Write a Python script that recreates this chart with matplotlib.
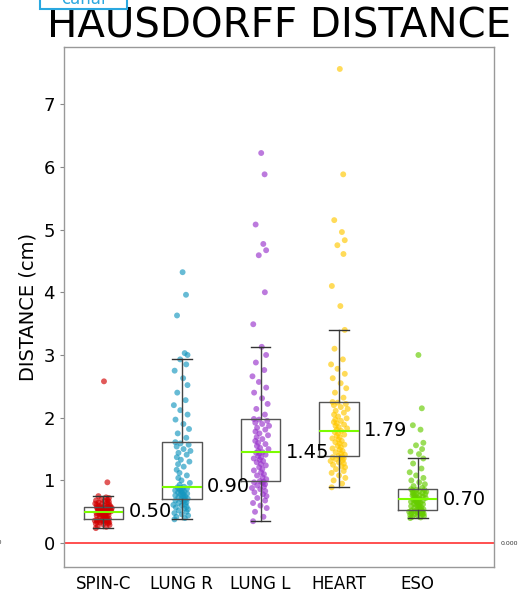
import numpy as np
import matplotlib
matplotlib.use("Agg")
import matplotlib.pyplot as plt
from matplotlib.patches import Rectangle

categories = ["SPIN-C", "LUNG R", "LUNG L", "HEART", "ESO"]
colors = ["#d10000", "#1597bf", "#9933cc", "#ffc800", "#66cc00"]

spin_c = [0.24, 0.26, 0.27, 0.29, 0.30, 0.31, 0.32, 0.33, 0.33, 0.34, 0.34, 0.35, 0.35, 0.36, 0.36, 0.36,
          0.37, 0.37, 0.37, 0.38, 0.38,
          0.39, 0.40, 0.41, 0.42, 0.43, 0.44, 0.44, 0.45, 0.45, 0.46, 0.46, 0.47, 0.47, 0.48, 0.48, 0.49,
          0.49, 0.49, 0.50, 0.50,
          0.51, 0.51, 0.52, 0.52, 0.52, 0.53, 0.53, 0.53, 0.54, 0.54, 0.54, 0.55, 0.55, 0.55, 0.56, 0.56,
          0.56, 0.57, 0.57, 0.57,
          0.58, 0.59, 0.59, 0.60, 0.61, 0.62, 0.62, 0.63, 0.64, 0.65, 0.66, 0.67, 0.68, 0.69, 0.70, 0.72,
          0.73, 0.75, 0.97, 2.58]

lung_r = [0.38, 0.40, 0.42, 0.44, 0.46, 0.48, 0.50, 0.52, 0.54, 0.55, 0.57, 0.58, 0.60, 0.61, 0.62, 0.64,
          0.65, 0.66, 0.68, 0.69, 0.70,
          0.71, 0.72, 0.73, 0.74, 0.75, 0.76, 0.77, 0.78, 0.79, 0.80, 0.81, 0.82, 0.83, 0.84, 0.85, 0.86,
          0.87, 0.88, 0.89, 0.90,
          0.93, 0.96, 1.00, 1.04, 1.08, 1.12, 1.17, 1.22, 1.26, 1.30, 1.33, 1.37, 1.41, 1.44, 1.47, 1.50,
          1.54, 1.57, 1.59, 1.61,
          1.68, 1.75, 1.82, 1.90, 1.97, 2.05, 2.12, 2.20, 2.28, 2.40, 2.52, 2.63, 2.75, 2.85, 2.93,
          3.00, 3.03, 3.63, 3.96, 4.32]

lung_l = [0.35, 0.42, 0.50, 0.56, 0.60, 0.64, 0.68, 0.72, 0.75, 0.78, 0.81, 0.83, 0.86, 0.88, 0.90, 0.92,
          0.94, 0.96, 0.97, 0.98, 0.99,
          1.02, 1.05, 1.08, 1.10, 1.13, 1.16, 1.18, 1.21, 1.24, 1.26, 1.29, 1.31, 1.33, 1.35, 1.37, 1.39,
          1.41, 1.43, 1.44, 1.45,
          1.47, 1.50, 1.52, 1.55, 1.58, 1.60, 1.63, 1.66, 1.69, 1.72, 1.75, 1.78, 1.81, 1.84, 1.87, 1.90,
          1.92, 1.95, 1.97, 1.98,
          2.05, 2.14, 2.22, 2.31, 2.40, 2.48, 2.57, 2.66, 2.76, 2.88, 3.00, 3.13,
          3.49, 4.00, 4.59, 4.67, 4.77, 5.08, 5.88, 6.22]

heart = [0.89, 0.95, 1.00, 1.04, 1.08, 1.12, 1.15, 1.18, 1.21, 1.23, 1.25, 1.27, 1.29, 1.31, 1.32, 1.34,
         1.35, 1.36, 1.37, 1.38, 1.39,
         1.41, 1.43, 1.45, 1.47, 1.49, 1.51, 1.53, 1.55, 1.57, 1.59, 1.61, 1.63, 1.65, 1.67, 1.69, 1.71,
         1.73, 1.75, 1.77, 1.79,
         1.81, 1.83, 1.85, 1.87, 1.89, 1.91, 1.93, 1.95, 1.97, 1.99, 2.02, 2.05, 2.08, 2.11, 2.14, 2.17,
         2.20, 2.22, 2.24, 2.25,
         2.32, 2.40, 2.47, 2.55, 2.63, 2.70, 2.78, 2.85, 2.93, 3.10, 3.40,
         3.78, 4.10, 4.61, 4.75, 4.83, 4.96, 5.15, 5.88, 7.56]

eso = [0.40, 0.41, 0.42, 0.43, 0.44, 0.45, 0.46, 0.46, 0.47, 0.48, 0.48, 0.49, 0.49, 0.50, 0.50, 0.51,
       0.51, 0.52, 0.52, 0.53, 0.53,
       0.54, 0.55, 0.56, 0.57, 0.58, 0.59, 0.60, 0.61, 0.62, 0.62, 0.63, 0.64, 0.65, 0.66, 0.66, 0.67,
       0.68, 0.69, 0.69, 0.70,
       0.71, 0.72, 0.72, 0.73, 0.74, 0.75, 0.76, 0.76, 0.77, 0.78, 0.79, 0.80, 0.80, 0.81, 0.82, 0.83,
       0.84, 0.85, 0.85, 0.86,
       0.88, 0.91, 0.94, 0.97, 1.00, 1.04, 1.08, 1.13, 1.19, 1.27, 1.35,
       1.42, 1.46, 1.50, 1.56, 1.60, 1.81, 1.88, 2.15, 3.00]

data = [spin_c, lung_r, lung_l, heart, eso]

fig = plt.figure(figsize=(5.26, 5.92), dpi=100)
ax = fig.add_axes([64 / 526, 1 - 567 / 592, 430 / 526, 520 / 592])

positions = np.arange(1, len(categories) + 1)

# jittered scatter (deterministic jitter)
for i, (vals, col) in enumerate(zip(data, colors)):
    v = np.asarray(vals)
    k = np.arange(len(v))
    jitter = (((k * 0.6180339) % 1.0) - 0.5) * 0.19 + np.sin(k * 2.3) * 0.02
    ax.scatter(positions[i] + jitter, v, s=18, color=col, alpha=0.65, edgecolors="none", zorder=2)

bp = ax.boxplot(data, positions=positions, widths=0.5, showfliers=False, patch_artist=False,
                boxprops=dict(color="#555555", linewidth=1.0),
                whiskerprops=dict(color="#444444", linewidth=1.0),
                capprops=dict(color="#333333", linewidth=1.0),
                medianprops=dict(color="#7CFC00", linewidth=1.5),
                zorder=3)

for i, vals in enumerate(data):
    med = np.median(vals)
    ax.text(positions[i] + 0.32, med, f"{med:.2f}", fontsize=14, ha="left", va="center", zorder=4)

ax.axhline(0, color="#ff2020", linewidth=1.3, alpha=0.85, zorder=1)
ax.text(1.015, 0, "0.000", transform=ax.get_yaxis_transform(), fontsize=4.5, color="#333333",
        ha="left", va="center")

ax.set_xlim(0.5, 5.97)
ax.set_ylim(-0.38, 7.91)
ax.set_xticks(positions)
ax.set_xticklabels(categories, fontsize=12)
ax.set_yticks(range(0, 8))
ax.tick_params(axis="y", labelsize=13, length=3, color="#888888")
ax.tick_params(axis="x", length=0, pad=6)
ax.set_ylabel("DISTANCE (cm)", fontsize=14, labelpad=4)
for sp in ax.spines.values():
    sp.set_color("#999999")
    sp.set_linewidth(1.0)

fig.text(279.5 / 526, 1 - 37 / 592, "HAUSDORFF DISTANCE", fontsize=29, ha="center", va="baseline")

# partially visible annotation box at top left
fig.patches.append(Rectangle((40 / 526, 1 - 9 / 592), 87 / 526, 0.05, transform=fig.transFigure,
                             facecolor="white", edgecolor="#2aa8e0", linewidth=1.5, zorder=5))
fig.text(83.5 / 526, 1 - 4.5 / 592, "canal", fontsize=12, color="#2aa8e0", ha="center",
         va="baseline", zorder=6)
fig.text(2.5 / 526, 1 - 543 / 592, "0.000", fontsize=4.5, color="#333333", ha="right", va="center")

fig.savefig("out.png", dpi=100)
